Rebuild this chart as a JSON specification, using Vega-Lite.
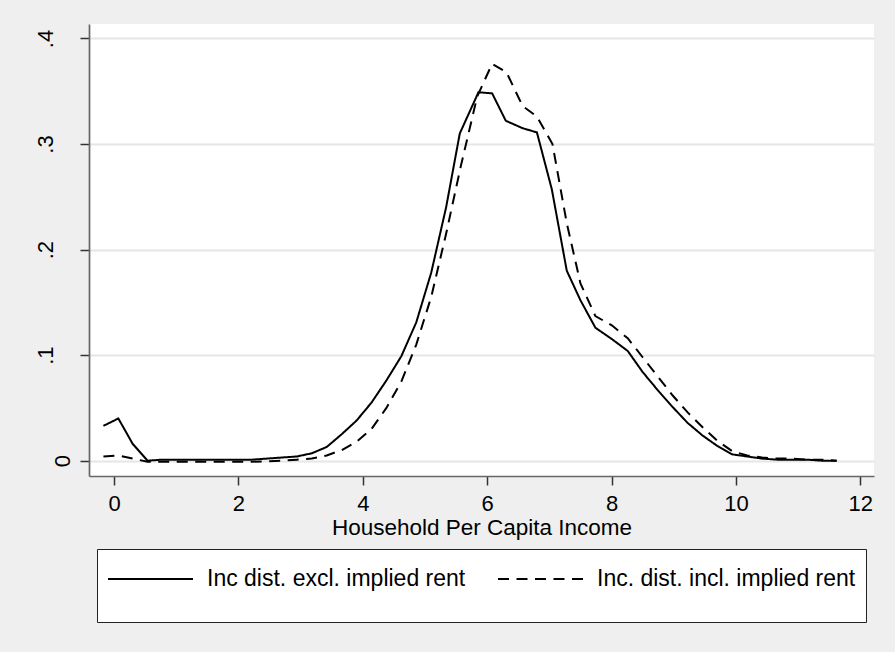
{
  "$schema": "https://vega.github.io/schema/vega-lite/v6.json",
  "width": 785,
  "height": 452,
  "autosize": "none",
  "padding": {"left": 89, "top": 24, "right": 21, "bottom": 176},
  "background": "#efefef",
  "config": {
    "font": "Liberation Sans",
    "view": {"fill": "white", "stroke": null}
  },
  "data": {
    "values": [
      {"x": -0.17, "y": 0.033, "s": "Inc dist. excl. implied rent"},
      {"x": 0.07, "y": 0.040, "s": "Inc dist. excl. implied rent"},
      {"x": 0.30, "y": 0.016, "s": "Inc dist. excl. implied rent"},
      {"x": 0.54, "y": 0.000, "s": "Inc dist. excl. implied rent"},
      {"x": 0.78, "y": 0.001, "s": "Inc dist. excl. implied rent"},
      {"x": 1.02, "y": 0.001, "s": "Inc dist. excl. implied rent"},
      {"x": 1.26, "y": 0.001, "s": "Inc dist. excl. implied rent"},
      {"x": 1.50, "y": 0.001, "s": "Inc dist. excl. implied rent"},
      {"x": 1.74, "y": 0.001, "s": "Inc dist. excl. implied rent"},
      {"x": 1.98, "y": 0.001, "s": "Inc dist. excl. implied rent"},
      {"x": 2.22, "y": 0.001, "s": "Inc dist. excl. implied rent"},
      {"x": 2.46, "y": 0.002, "s": "Inc dist. excl. implied rent"},
      {"x": 2.70, "y": 0.003, "s": "Inc dist. excl. implied rent"},
      {"x": 2.94, "y": 0.004, "s": "Inc dist. excl. implied rent"},
      {"x": 3.18, "y": 0.007, "s": "Inc dist. excl. implied rent"},
      {"x": 3.42, "y": 0.013, "s": "Inc dist. excl. implied rent"},
      {"x": 3.66, "y": 0.025, "s": "Inc dist. excl. implied rent"},
      {"x": 3.90, "y": 0.038, "s": "Inc dist. excl. implied rent"},
      {"x": 4.14, "y": 0.055, "s": "Inc dist. excl. implied rent"},
      {"x": 4.38, "y": 0.076, "s": "Inc dist. excl. implied rent"},
      {"x": 4.62, "y": 0.099, "s": "Inc dist. excl. implied rent"},
      {"x": 4.86, "y": 0.131, "s": "Inc dist. excl. implied rent"},
      {"x": 5.10, "y": 0.178, "s": "Inc dist. excl. implied rent"},
      {"x": 5.34, "y": 0.240, "s": "Inc dist. excl. implied rent"},
      {"x": 5.56, "y": 0.310, "s": "Inc dist. excl. implied rent"},
      {"x": 5.86, "y": 0.349, "s": "Inc dist. excl. implied rent"},
      {"x": 6.08, "y": 0.348, "s": "Inc dist. excl. implied rent"},
      {"x": 6.30, "y": 0.322, "s": "Inc dist. excl. implied rent"},
      {"x": 6.57, "y": 0.315, "s": "Inc dist. excl. implied rent"},
      {"x": 6.80, "y": 0.311, "s": "Inc dist. excl. implied rent"},
      {"x": 7.04, "y": 0.257, "s": "Inc dist. excl. implied rent"},
      {"x": 7.28, "y": 0.180, "s": "Inc dist. excl. implied rent"},
      {"x": 7.50, "y": 0.152, "s": "Inc dist. excl. implied rent"},
      {"x": 7.74, "y": 0.126, "s": "Inc dist. excl. implied rent"},
      {"x": 8.01, "y": 0.115, "s": "Inc dist. excl. implied rent"},
      {"x": 8.26, "y": 0.104, "s": "Inc dist. excl. implied rent"},
      {"x": 8.50, "y": 0.084, "s": "Inc dist. excl. implied rent"},
      {"x": 8.74, "y": 0.067, "s": "Inc dist. excl. implied rent"},
      {"x": 8.98, "y": 0.051, "s": "Inc dist. excl. implied rent"},
      {"x": 9.22, "y": 0.036, "s": "Inc dist. excl. implied rent"},
      {"x": 9.46, "y": 0.024, "s": "Inc dist. excl. implied rent"},
      {"x": 9.70, "y": 0.014, "s": "Inc dist. excl. implied rent"},
      {"x": 9.94, "y": 0.006, "s": "Inc dist. excl. implied rent"},
      {"x": 10.18, "y": 0.004, "s": "Inc dist. excl. implied rent"},
      {"x": 10.42, "y": 0.002, "s": "Inc dist. excl. implied rent"},
      {"x": 10.66, "y": 0.001, "s": "Inc dist. excl. implied rent"},
      {"x": 10.90, "y": 0.001, "s": "Inc dist. excl. implied rent"},
      {"x": 11.14, "y": 0.001, "s": "Inc dist. excl. implied rent"},
      {"x": 11.38, "y": 0.000, "s": "Inc dist. excl. implied rent"},
      {"x": 11.62, "y": 0.000, "s": "Inc dist. excl. implied rent"},
      {"x": -0.17, "y": 0.004, "s": "Inc. dist. incl. implied rent"},
      {"x": 0.07, "y": 0.005, "s": "Inc. dist. incl. implied rent"},
      {"x": 0.30, "y": 0.002, "s": "Inc. dist. incl. implied rent"},
      {"x": 0.54, "y": -0.001, "s": "Inc. dist. incl. implied rent"},
      {"x": 0.78, "y": -0.001, "s": "Inc. dist. incl. implied rent"},
      {"x": 1.02, "y": -0.001, "s": "Inc. dist. incl. implied rent"},
      {"x": 1.26, "y": -0.001, "s": "Inc. dist. incl. implied rent"},
      {"x": 1.50, "y": -0.001, "s": "Inc. dist. incl. implied rent"},
      {"x": 1.74, "y": -0.001, "s": "Inc. dist. incl. implied rent"},
      {"x": 1.98, "y": -0.001, "s": "Inc. dist. incl. implied rent"},
      {"x": 2.22, "y": -0.001, "s": "Inc. dist. incl. implied rent"},
      {"x": 2.46, "y": -0.0005, "s": "Inc. dist. incl. implied rent"},
      {"x": 2.70, "y": 0.000, "s": "Inc. dist. incl. implied rent"},
      {"x": 2.94, "y": 0.001, "s": "Inc. dist. incl. implied rent"},
      {"x": 3.18, "y": 0.002, "s": "Inc. dist. incl. implied rent"},
      {"x": 3.42, "y": 0.005, "s": "Inc. dist. incl. implied rent"},
      {"x": 3.66, "y": 0.010, "s": "Inc. dist. incl. implied rent"},
      {"x": 3.90, "y": 0.018, "s": "Inc. dist. incl. implied rent"},
      {"x": 4.14, "y": 0.030, "s": "Inc. dist. incl. implied rent"},
      {"x": 4.38, "y": 0.050, "s": "Inc. dist. incl. implied rent"},
      {"x": 4.62, "y": 0.075, "s": "Inc. dist. incl. implied rent"},
      {"x": 4.86, "y": 0.110, "s": "Inc. dist. incl. implied rent"},
      {"x": 5.10, "y": 0.155, "s": "Inc. dist. incl. implied rent"},
      {"x": 5.34, "y": 0.215, "s": "Inc. dist. incl. implied rent"},
      {"x": 5.58, "y": 0.280, "s": "Inc. dist. incl. implied rent"},
      {"x": 5.84, "y": 0.345, "s": "Inc. dist. incl. implied rent"},
      {"x": 6.08, "y": 0.376, "s": "Inc. dist. incl. implied rent"},
      {"x": 6.31, "y": 0.368, "s": "Inc. dist. incl. implied rent"},
      {"x": 6.57, "y": 0.336, "s": "Inc. dist. incl. implied rent"},
      {"x": 6.80, "y": 0.326, "s": "Inc. dist. incl. implied rent"},
      {"x": 7.05, "y": 0.300, "s": "Inc. dist. incl. implied rent"},
      {"x": 7.28, "y": 0.225, "s": "Inc. dist. incl. implied rent"},
      {"x": 7.50, "y": 0.168, "s": "Inc. dist. incl. implied rent"},
      {"x": 7.74, "y": 0.137, "s": "Inc. dist. incl. implied rent"},
      {"x": 8.01, "y": 0.128, "s": "Inc. dist. incl. implied rent"},
      {"x": 8.26, "y": 0.116, "s": "Inc. dist. incl. implied rent"},
      {"x": 8.50, "y": 0.098, "s": "Inc. dist. incl. implied rent"},
      {"x": 8.74, "y": 0.080, "s": "Inc. dist. incl. implied rent"},
      {"x": 8.98, "y": 0.062, "s": "Inc. dist. incl. implied rent"},
      {"x": 9.22, "y": 0.046, "s": "Inc. dist. incl. implied rent"},
      {"x": 9.46, "y": 0.032, "s": "Inc. dist. incl. implied rent"},
      {"x": 9.70, "y": 0.019, "s": "Inc. dist. incl. implied rent"},
      {"x": 9.94, "y": 0.009, "s": "Inc. dist. incl. implied rent"},
      {"x": 10.18, "y": 0.005, "s": "Inc. dist. incl. implied rent"},
      {"x": 10.42, "y": 0.003, "s": "Inc. dist. incl. implied rent"},
      {"x": 10.66, "y": 0.002, "s": "Inc. dist. incl. implied rent"},
      {"x": 10.90, "y": 0.002, "s": "Inc. dist. incl. implied rent"},
      {"x": 11.14, "y": 0.001, "s": "Inc. dist. incl. implied rent"},
      {"x": 11.38, "y": 0.001, "s": "Inc. dist. incl. implied rent"},
      {"x": 11.62, "y": 0.000, "s": "Inc. dist. incl. implied rent"}
    ]
  },
  "mark": {"type": "line", "color": "black", "strokeWidth": 2, "clip": true},
  "encoding": {
    "x": {
      "field": "x", "type": "quantitative",
      "scale": {"domain": [-0.402, 12.22], "nice": false, "zero": false},
      "axis": {
        "values": [0, 2, 4, 6, 8, 10, 12],
        "title": "Household Per Capita Income",
        "grid": false,
        "domainColor": "#666666", "domainWidth": 1.7,
        "tickColor": "#333333", "tickWidth": 1.5, "tickSize": 9,
        "labelFontSize": 22, "labelColor": "black", "labelPadding": 8, "labelFlush": false,
        "titleFontSize": 22.5, "titleFontWeight": "normal", "titleColor": "black", "titlePadding": 2
      }
    },
    "y": {
      "field": "y", "type": "quantitative",
      "scale": {"domain": [-0.0145, 0.4137], "nice": false, "zero": false},
      "axis": {
        "values": [0, 0.1, 0.2, 0.3, 0.4],
        "labelExpr": "datum.value == 0 ? '0' : replace(format(datum.value, '.1f'), '0.', '.')",
        "title": null,
        "grid": true, "gridColor": "#e6e6e6", "gridWidth": 1.8,
        "domainColor": "#666666", "domainWidth": 1.7,
        "tickColor": "#333333", "tickWidth": 1.5, "tickSize": 9,
        "labelFontSize": 22, "labelColor": "black", "labelPadding": 28,
        "labelAngle": -90, "labelAlign": "center",
        "labelBaseline": {"condition": {"test": "datum.value == 0", "value": "top"}, "value": "alphabetic"}
      }
    },
    "strokeDash": {
      "field": "s", "type": "nominal",
      "scale": {"domain": ["Inc dist. excl. implied rent", "Inc. dist. incl. implied rent"], "range": [[1, 0], [11, 7.5]]},
      "legend": {
        "title": " ", "titleOrient": "bottom", "titleFontSize": 12, "titlePadding": 10,
        "orient": "none", "legendX": 8, "legendY": 525,
        "direction": "horizontal", "columns": 2,
        "symbolType": "M-1,0H3.474", "symbolSize": 1444, "symbolStrokeWidth": 2, "symbolStrokeColor": "black",
        "labelFontSize": 23, "labelColor": "black", "labelLimit": 500, "labelOffset": 60,
        "labelExpr": "datum.label + ' '",
        "columnPadding": 28,
        "padding": 10,
        "fillColor": "white", "strokeColor": "#222222"
      }
    }
  }
}
